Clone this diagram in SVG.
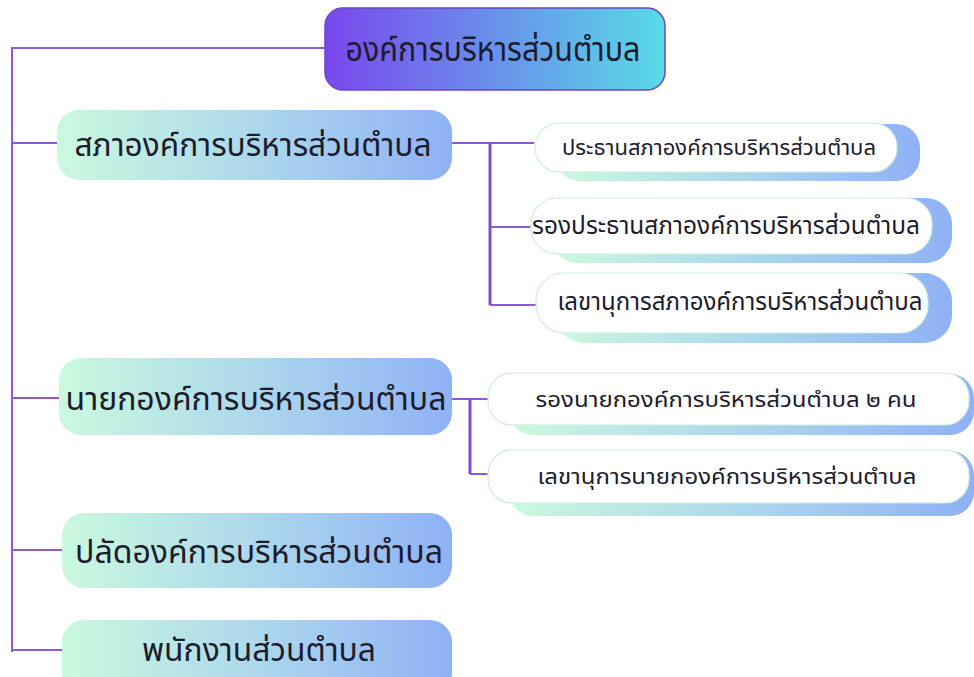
<svg xmlns="http://www.w3.org/2000/svg" width="974" height="677" viewBox="0 0 974 677">
<defs>
<linearGradient id="gTop" x1="0" y1="0" x2="1" y2="0">
<stop offset="0" stop-color="#7a47ee"/>
<stop offset="1" stop-color="#58dbe6"/>
</linearGradient>
<linearGradient id="gMain" x1="0" y1="0" x2="1" y2="0">
<stop offset="0" stop-color="#cbf9de"/>
<stop offset="0.5" stop-color="#acd8ec"/>
<stop offset="1" stop-color="#8fb1f6"/>
</linearGradient>
<style>
.t{font-family:"Noto Sans Thai","Noto Sans","Liberation Sans",sans-serif;fill:#1c1c2c;text-anchor:middle}
.big{font-size:32px}
.sm{font-size:22px}
.main{fill:url(#gMain)}
.sh{fill:url(#gMain)}
.wb{fill:#ffffff;stroke:#cdeede;stroke-width:1.2}
.ln{fill:none;stroke:#8d5ad8;stroke-width:2}
.ln2{fill:none;stroke:#7e4bd6;stroke-width:3}
</style>
</defs>
<rect width="974" height="677" fill="#ffffff"/>
<g id="connectors">
<path class="ln" d="M325 48 H12 V652 M12 143 H60 M12 398 H62 M12 550 H64 M12 650 H64"/>
<path class="ln" d="M452 143 H534 M490 227 H531 M490 305 H536"/>
<path class="ln2" d="M490 143 V305"/>
<path class="ln" d="M452 399 H488 M470 474 H488"/>
<path class="ln2" d="M470 399 V474"/>
</g>
<g id="root">
<rect x="325" y="8" width="340" height="82" rx="18" fill="url(#gTop)" stroke="#6a45c4" stroke-width="1.5"/>
<text class="t" x="493" y="61" font-size="34" textLength="295" lengthAdjust="spacingAndGlyphs">องค์การบริหารส่วนตำบล</text>
</g>
<g id="sapha">
<rect class="main" x="57" y="110" width="395" height="70" rx="22"/>
<text class="t big" x="253" y="156" textLength="357" lengthAdjust="spacingAndGlyphs">สภาองค์การบริหารส่วนตำบล</text>
</g>
<g id="prathan">
<rect class="sh" x="556" y="124" width="364" height="57" rx="24"/>
<rect class="wb" x="535" y="123" width="362" height="49" rx="24"/>
<text class="t sm" x="719" y="155" textLength="314" lengthAdjust="spacingAndGlyphs">ประธานสภาองค์การบริหารส่วนตำบล</text>
</g>
<g id="rongprathan">
<rect class="sh" x="552" y="198" width="400" height="65" rx="26"/>
<rect class="wb" x="531" y="198" width="401" height="56" rx="26"/>
<text class="t" x="726" y="234" font-size="25" textLength="388" lengthAdjust="spacingAndGlyphs">รองประธานสภาองค์การบริหารส่วนตำบล</text>
</g>
<g id="lekhasapha">
<rect class="sh" x="556" y="273" width="396" height="70" rx="28"/>
<rect class="wb" x="536" y="273" width="392" height="60" rx="28"/>
<text class="t" x="740" y="310" font-size="24" textLength="365" lengthAdjust="spacingAndGlyphs">เลขานุการสภาองค์การบริหารส่วนตำบล</text>
</g>
<g id="nayok">
<rect class="main" x="59" y="358" width="393" height="77" rx="22"/>
<text class="t big" x="256" y="410" textLength="381" lengthAdjust="spacingAndGlyphs">นายกองค์การบริหารส่วนตำบล</text>
</g>
<g id="rongnayok">
<rect class="sh" x="509" y="374" width="465" height="61" rx="24"/>
<rect class="wb" x="488" y="373" width="481" height="52" rx="24"/>
<text class="t sm" x="726" y="407" textLength="381" lengthAdjust="spacingAndGlyphs">รองนายกองค์การบริหารส่วนตำบล ๒ คน</text>
</g>
<g id="lekhanayok">
<rect class="sh" x="509" y="451" width="465" height="65" rx="24"/>
<rect class="wb" x="488" y="450" width="481" height="53" rx="24"/>
<text class="t sm" x="727" y="484" textLength="379" lengthAdjust="spacingAndGlyphs">เลขานุการนายกองค์การบริหารส่วนตำบล</text>
</g>
<g id="palad">
<rect class="main" x="62" y="513" width="390" height="75" rx="22"/>
<text class="t big" x="259" y="563" textLength="368" lengthAdjust="spacingAndGlyphs">ปลัดองค์การบริหารส่วนตำบล</text>
</g>
<g id="phanakngan">
<rect class="main" x="62" y="620" width="390" height="75" rx="22"/>
<text class="t big" x="259" y="661" textLength="234" lengthAdjust="spacingAndGlyphs">พนักงานส่วนตำบล</text>
</g>
</svg>
